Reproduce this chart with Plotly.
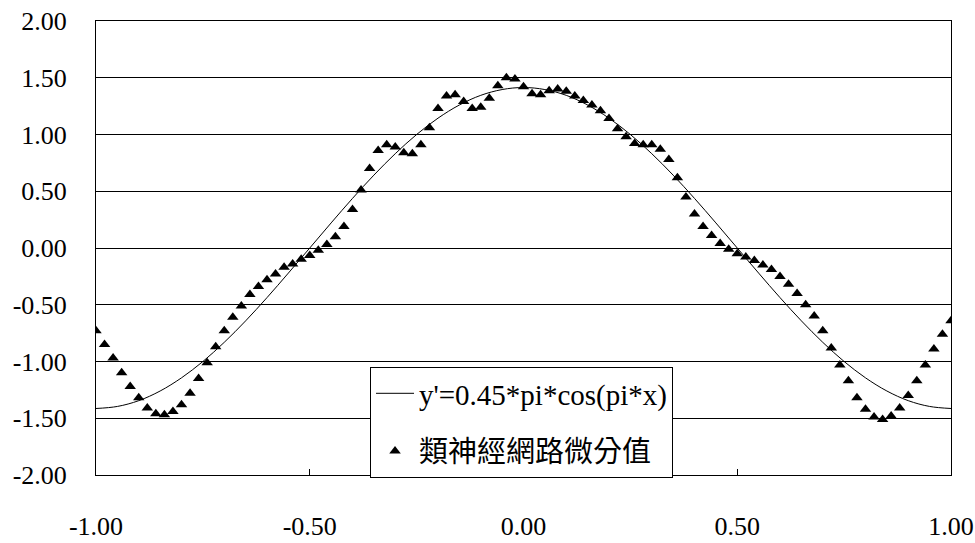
import plotly.graph_objects as go

line_x = [-1.00, -0.95, -0.90, -0.85, -0.80, -0.75, -0.70, -0.65, -0.60, -0.55,
          -0.50, -0.45, -0.40, -0.35, -0.30, -0.25, -0.20, -0.15, -0.10, -0.05,
          0.00, 0.05, 0.10, 0.15, 0.20, 0.25, 0.30, 0.35, 0.40, 0.45,
          0.50, 0.55, 0.60, 0.65, 0.70, 0.75, 0.80, 0.85, 0.90, 0.95, 1.00]
line_y = [-1.414, -1.396, -1.345, -1.260, -1.144, -1.000, -0.831, -0.642, -0.437, -0.221,
          0.000, 0.221, 0.437, 0.642, 0.831, 1.000, 1.144, 1.260, 1.345, 1.396,
          1.414, 1.396, 1.345, 1.260, 1.144, 1.000, 0.831, 0.642, 0.437, 0.221,
          0.000, -0.221, -0.437, -0.642, -0.831, -1.000, -1.144, -1.260, -1.345, -1.396, -1.414]

# Neural-network derivative points
nn_x = [-1.00, -0.98, -0.96, -0.94, -0.92, -0.90, -0.88, -0.86, -0.84, -0.82,
        -0.80, -0.78, -0.76, -0.74, -0.72, -0.70, -0.68, -0.66, -0.64, -0.62,
        -0.60, -0.58, -0.56, -0.54, -0.52, -0.50, -0.48, -0.46, -0.44, -0.42,
        -0.40, -0.38, -0.36, -0.34, -0.32, -0.30, -0.28, -0.26, -0.24, -0.22,
        -0.20, -0.18, -0.16, -0.14, -0.12, -0.10, -0.08, -0.06, -0.04, -0.02,
        0.00, 0.02, 0.04, 0.06, 0.08, 0.10, 0.12, 0.14, 0.16, 0.18,
        0.20, 0.22, 0.24, 0.26, 0.28, 0.30, 0.32, 0.34, 0.36, 0.38,
        0.40, 0.42, 0.44, 0.46, 0.48, 0.50, 0.52, 0.54, 0.56, 0.58,
        0.60, 0.62, 0.64, 0.66, 0.68, 0.70, 0.72, 0.74, 0.76, 0.78,
        0.80, 0.82, 0.84, 0.86, 0.88, 0.90, 0.92, 0.94, 0.96, 0.98, 1.00]
nn_y = [-0.73, -0.85, -0.97, -1.10, -1.22, -1.32, -1.41, -1.46, -1.47, -1.44,
        -1.38, -1.28, -1.15, -1.01, -0.87, -0.73, -0.61, -0.51, -0.41, -0.34,
        -0.28, -0.23, -0.17, -0.14, -0.10, -0.065, -0.02, 0.03, 0.10, 0.19,
        0.34, 0.51, 0.70, 0.86, 0.91, 0.89, 0.84, 0.83, 0.91, 1.06,
        1.23, 1.34, 1.35, 1.29, 1.23, 1.24, 1.32, 1.43, 1.50, 1.49,
        1.42, 1.36, 1.35, 1.385, 1.40, 1.38, 1.34, 1.30, 1.26, 1.21,
        1.14, 1.05, 0.98, 0.92, 0.91, 0.91, 0.87, 0.78, 0.62, 0.45,
        0.30, 0.19, 0.11, 0.04, -0.01, -0.05, -0.08, -0.11, -0.15, -0.19,
        -0.25, -0.32, -0.40, -0.50, -0.60, -0.73, -0.88, -1.03, -1.17, -1.32,
        -1.42, -1.49, -1.51, -1.48, -1.41, -1.30, -1.17, -1.03, -0.89, -0.76, -0.64]

x_ticks = [-1.0, -0.5, 0.0, 0.5, 1.0]
x_tick_labels = ["-1.00", "-0.50", "0.00", "0.50", "1.00"]
y_ticks = [-2.0, -1.5, -1.0, -0.5, 0.0, 0.5, 1.0, 1.5, 2.0]
y_tick_labels = ["-2.00", "-1.50", "-1.00", "-0.50", "0.00", "0.50", "1.00", "1.50", "2.00"]

line_name = "y'=0.45*pi*cos(pi*x)"
nn_name = "類神經網路微分值"

FONT = "'Liberation Serif', 'DejaVu Serif', 'Noto Sans CJK TC', serif"

fig = go.Figure()
fig.add_trace(go.Scatter(
    x=line_x, y=line_y, mode="lines", name=line_name,
    line=dict(color="black", width=1, shape="spline"),
    legendgroup="a",
))
fig.add_trace(go.Scatter(
    x=nn_x, y=nn_y, mode="markers", name=nn_name,
    marker=dict(symbol="triangle-up", size=10, color="black"),
    legendgroup="b",
))

fig.update_layout(
    width=975, height=543,
    margin=dict(l=96, r=24, t=21, b=68, autoexpand=False),
    paper_bgcolor="white", plot_bgcolor="white",
    font=dict(family=FONT, size=26, color="black"),
    showlegend=True,
    legend=dict(
        x=0.3205, y=0.238, xanchor="left", yanchor="top",
        bgcolor="white", bordercolor="black", borderwidth=1,
        font=dict(family=FONT, size=29, color="black"),
        tracegroupgap=17,
        itemwidth=38,
    ),
    xaxis=dict(
        range=[-1, 1], tickmode="array", tickvals=x_ticks, ticktext=x_tick_labels,
        showgrid=False, zeroline=False, automargin=False,
        showline=True, linecolor="black", linewidth=1, mirror=True,
        ticks="inside", ticklen=6, tickcolor="black",
        ticklabelstandoff=28,
        tickfont=dict(family=FONT, size=26),
    ),
    yaxis=dict(
        range=[-2, 2], tickmode="array", tickvals=y_ticks, ticktext=y_tick_labels,
        showgrid=True, gridcolor="black", gridwidth=1,
        zeroline=False, automargin=False,
        showline=True, linecolor="black", linewidth=1, mirror=True,
        ticks="inside", ticklen=6, tickcolor="black",
        ticklabelstandoff=23,
        tickfont=dict(family=FONT, size=26),
    ),
)

fig.write_html("out.html", config={"displayModeBar": False},
               post_script="document.body.style.margin='0';")
